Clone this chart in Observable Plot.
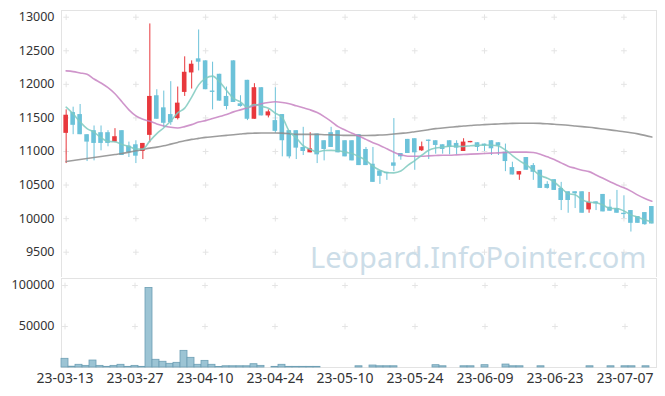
<!DOCTYPE html>
<html><head><meta charset="utf-8">
<script src="https://cdn.jsdelivr.net/npm/d3@7"></script>
<script src="https://cdn.jsdelivr.net/npm/@observablehq/plot@0.6"></script>
<style>
body{margin:0;background:#fff;}
#chart svg{display:block;}
</style></head><body><div id="chart"></div>
<script>
const dates = ["23-03-13","23-03-14","23-03-15","23-03-16","23-03-17","23-03-20","23-03-21","23-03-22","23-03-23","23-03-24",
"23-03-27","23-03-28","23-03-29","23-03-30","23-03-31","23-04-03","23-04-04","23-04-05","23-04-06","23-04-07",
"23-04-10","23-04-11","23-04-12","23-04-13","23-04-14","23-04-17","23-04-18","23-04-19","23-04-20","23-04-21",
"23-04-24","23-04-25","23-04-26","23-04-27","23-04-28","23-05-02","23-05-03","23-05-04","23-05-08","23-05-09",
"23-05-10","23-05-11","23-05-12","23-05-15","23-05-16","23-05-17","23-05-18","23-05-19","23-05-22","23-05-23",
"23-05-24","23-05-25","23-05-26","23-05-30","23-05-31","23-06-01","23-06-02","23-06-05","23-06-07","23-06-08",
"23-06-09","23-06-12","23-06-13","23-06-14","23-06-15","23-06-16","23-06-19","23-06-20","23-06-21","23-06-22",
"23-06-23","23-06-26","23-06-27","23-06-28","23-06-29","23-06-30","23-07-03","23-07-04","23-07-05","23-07-06",
"23-07-07","23-07-10","23-07-11","23-07-12","23-07-13"];
const open = [11270,11580,11550,11250,11310,11280,11280,11140,11310,11080,
11100,11000,11240,11830,11650,11550,11490,11880,12170,12380,
12350,11900,12150,11820,12350,11710,12060,11480,11950,11530,
11460,11550,11310,11310,11060,10980,11260,11160,11280,11310,
11160,11160,11250,11030,10810,10710,10690,10830,10970,11180,
11190,11010,11170,11160,11100,11160,11120,11000,11130,11130,
11110,11160,11130,10990,10760,10650,10910,10790,10720,10510,
10580,10450,10400,10400,10400,10130,10250,10360,10170,10150,
10080,10120,10030,10090,10180];
const high = [11620,11660,11700,11250,11380,11380,11310,11340,11310,11140,
11160,11120,12900,11920,11900,12040,11960,12410,12350,12810,
12350,12330,12150,11960,12350,11830,12060,12010,11950,11620,
11950,11550,11310,11310,11360,11280,11260,11160,11360,11310,
11160,11160,11250,11060,11060,10710,10690,11490,10970,11180,
11190,11140,11170,11160,11100,11160,11160,11190,11150,11130,
11110,11160,11130,11110,10840,10700,10910,10820,10720,10550,
10580,10540,10400,10400,10400,10390,10250,10360,10280,10420,
10340,10120,10030,10090,10180];
const low = [10820,11250,11250,10850,10860,11010,11070,11130,10940,10910,
10820,10880,11130,11480,11360,11390,11470,11820,11930,12200,
11920,11620,11750,11620,11730,11660,11460,11480,11530,11500,
11270,10920,10890,10880,10940,10980,10820,10860,11060,10980,
10920,10860,10790,10790,10540,10510,10570,10700,10870,10970,
10720,11000,10880,10960,10960,10950,10950,11000,11130,11000,
11000,10940,10940,10700,10650,10570,10720,10570,10450,10440,
10420,10120,10080,10150,10080,10080,10120,10100,10110,10080,
10000,9800,9930,9900,9920];
const close = [11540,11390,11250,11140,11120,11120,11120,11220,10940,10980,
10930,11120,11820,11480,11420,11430,11720,12180,12300,12330,
11920,11880,11750,11670,11730,11670,11480,11950,11530,11590,
11300,11160,10920,11050,11000,11040,10950,11030,11060,10980,
10920,10860,10790,10790,10540,10630,10670,10780,10920,10970,
10980,11070,11150,11090,11030,11060,11050,11140,11150,11060,
11080,11040,11080,10850,10650,10700,10720,10690,10450,10450,
10420,10270,10270,10370,10080,10240,10220,10100,10110,10080,
10060,9930,9930,9910,9920];
const volume = [10600,1000,3300,2000,8500,2000,800,2000,3300,800,
2000,800,97000,9400,7000,4500,5700,20300,11800,3300,
8100,3300,500,1500,1500,1500,1500,4000,2000,0,
800,3300,800,800,800,800,800,0,0,0,
0,0,1500,0,2400,1500,1500,1500,0,0,
0,0,0,2800,1500,0,0,1500,1500,0,
2800,0,0,3600,1500,1500,0,0,1500,0,
0,0,0,0,0,1500,0,0,1500,0,
1500,1500,0,1500,0];
const ma5 = [11660,11560,11440,11340,11288,11204,11150,11144,11104,11076,
11038,11038,11158,11266,11354,11454,11574,11646,11810,11992,
12090,12122,12036,11910,11790,11740,11660,11700,11672,11644,
11570,11506,11300,11204,11086,11034,10992,11014,11016,11012,
10988,10970,10922,10868,10780,10722,10684,10682,10708,10794,
10864,10944,11018,11052,11064,11080,11076,11074,11086,11092,
11096,11094,11082,11022,10940,10864,10800,10722,10642,10602,
10546,10456,10372,10356,10282,10246,10236,10202,10150,10150,
10114,10056,10022,9982,9950];
const ma20 = [12200,12190,12170,12150,12080,12020,11950,11860,11740,11620,
11530,11480,11450,11410,11380,11360,11350,11370,11400,11440,
11460,11490,11520,11550,11590,11620,11650,11680,11710,11730,
11740,11730,11710,11680,11650,11620,11580,11520,11450,11370,
11320,11270,11230,11180,11130,11090,11040,10990,10950,10930,
10930,10930,10935,10940,10945,10945,10950,10955,10960,10965,
10970,10975,10980,10985,10990,10990,10990,10985,10960,10920,
10880,10830,10780,10750,10720,10700,10650,10600,10550,10500,
10460,10410,10350,10300,10260];
const ma60 = [10850,10865,10880,10895,10910,10925,10940,10955,10970,10990,
11010,11030,11050,11065,11085,11110,11135,11160,11180,11195,
11210,11220,11230,11240,11250,11260,11270,11273,11275,11275,
11275,11273,11265,11255,11255,11255,11255,11250,11248,11245,
11240,11240,11238,11238,11240,11245,11250,11260,11270,11280,
11295,11310,11325,11340,11350,11360,11370,11380,11387,11395,
11400,11405,11410,11415,11418,11420,11421,11421,11418,11412,
11405,11398,11390,11380,11370,11360,11348,11335,11322,11308,
11295,11280,11262,11240,11215];
const xTicks = ["23-03-13","23-03-27","23-04-10","23-04-24","23-05-10","23-05-24","23-06-09","23-06-23","23-07-07"];
const priceTicks = [9500,10000,10500,11000,11500,12000,12500,13000];
const volumeTicks = [50000,100000];
const watermark = "Leopard.InfoPointer.com";

const rows = dates.map((d, i) => ({
  date: d, open: open[i], high: high[i], low: low[i], close: close[i],
  volume: volume[i], ma5: ma5[i], ma20: ma20[i], ma60: ma60[i], up: close[i] > open[i]
}));
const UP = "#e8383d", DOWN = "#6cc2d9";
const W = 665, ML = 61, MR = 9;
const font = "'Noto Sans', sans-serif";
const grid = (yt) => xTicks.flatMap(x => yt.map(y => ({x, y})));

const main = Plot.plot({
  width: W, height: 277, marginLeft: ML, marginRight: MR, marginTop: 10, marginBottom: 0,
  style: {fontFamily: font, fontSize: "12.5px", color: "#333", background: "#fff"},
  x: {type: "band", domain: dates, padding: 0.34, axis: null},
  y: {domain: [9123, 13100], ticks: priceTicks, tickFormat: d => String(d), tickSize: 0, tickPadding: 7, label: null},
  marks: [
    Plot.frame({stroke: "#e3e3e3"}),
    Plot.dot(grid(priceTicks), {x: "x", y: "y", symbol: "plus", r: 2, stroke: "#e4e4e4", strokeWidth: 1}),
    Plot.text([watermark], {frameAnchor: "bottom-right", dx: -10, dy: -10, fill: "#ccdde8", fontSize: 29, fontFamily: font}),
    Plot.ruleX(rows, {x: "date", y1: "low", y2: "high", stroke: d => d.up ? UP : DOWN, strokeWidth: 1}),
    Plot.barY(rows, {x: "date", y1: "open", y2: "close", fill: d => d.up ? UP : DOWN}),
    Plot.line(rows, {x: "date", y: "ma60", stroke: "#8c8c8c", strokeWidth: 1.6, strokeOpacity: 0.85, curve: "monotone-x"}),
    Plot.line(rows, {x: "date", y: "ma20", stroke: "#c783c2", strokeWidth: 1.6, strokeOpacity: 0.85, curve: "monotone-x"}),
    Plot.line(rows, {x: "date", y: "ma5", stroke: "#7fcac0", strokeWidth: 1.6, strokeOpacity: 0.85, curve: "monotone-x"})
  ]
});

const vol = Plot.plot({
  width: W, height: 119, marginLeft: ML, marginRight: MR, marginTop: 1, marginBottom: 29,
  style: {fontFamily: font, fontSize: "12.5px", color: "#333", background: "#fff"},
  x: {type: "band", domain: dates, padding: 0, ticks: xTicks, tickSize: 0, tickPadding: 6, label: null, tickFormat: d => d},
  y: {domain: [0, 108500], ticks: volumeTicks, tickFormat: d => String(d), tickSize: 0, tickPadding: 7, label: null},
  marks: [
    Plot.frame({stroke: "#e3e3e3"}),
    Plot.dot(grid(volumeTicks), {x: "x", y: "y", symbol: "plus", r: 2, stroke: "#e4e4e4", strokeWidth: 1}),
    Plot.barY(rows, {filter: d => d.volume > 0, x: "date", y: "volume", fill: "#9cc4d4", stroke: "#6d9fb4", strokeWidth: 0.8}),
    Plot.axisX({ticks: xTicks, tickSize: 0, tickPadding: 6, fontSize: 14, label: null})
  ]
});

document.getElementById("chart").append(main, vol);
</script></body></html>
